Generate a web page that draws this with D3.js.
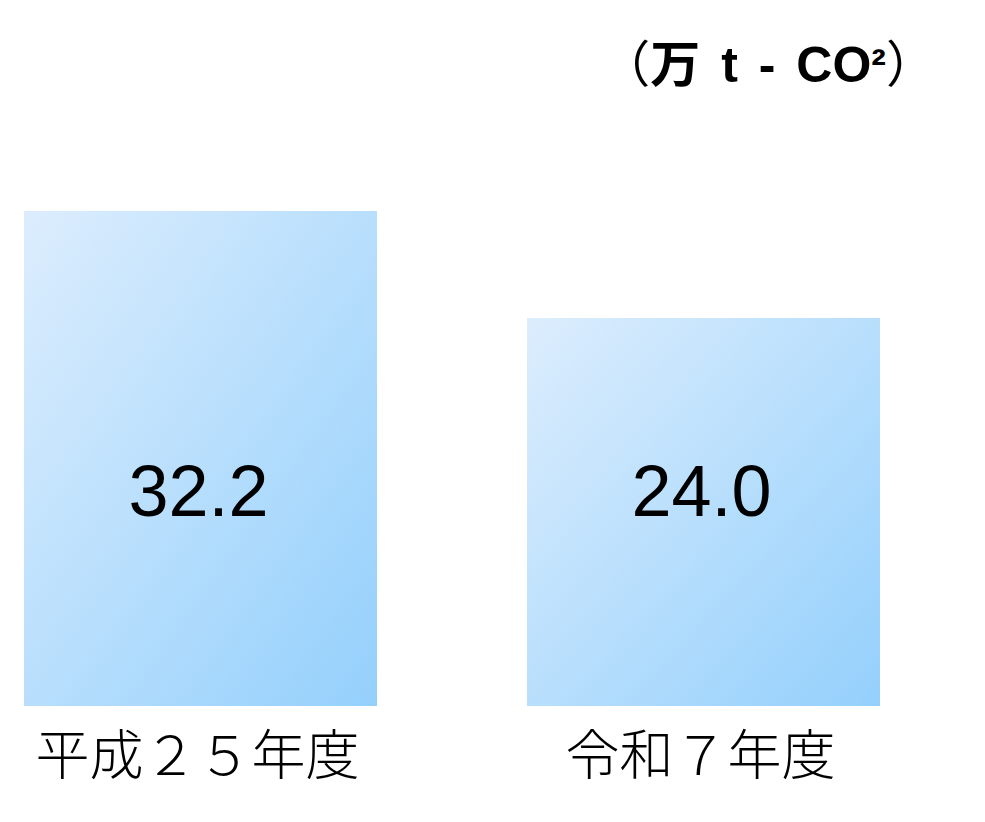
<!DOCTYPE html>
<html><head><meta charset="utf-8">
<script src="https://cdn.jsdelivr.net/npm/d3@7"></script>
<style>html,body{margin:0;padding:0;background:#fff;}svg{display:block;}</style>
</head><body>
<svg id="c" width="985" height="822"></svg>
<script>
const categories = ["平成２５年度", "令和７年度"];
const values = [32.2, 24.0];
const valueLabels = ["32.2", "24.0"];
const unitParts = ["（", "万 t - CO", "²", "）"];

const svg = d3.select("#c");
const defs = svg.append("defs");
const g = defs.append("linearGradient").attr("id","grad")
  .attr("x1","0%").attr("y1","0%").attr("x2","100%").attr("y2","100%");
g.append("stop").attr("offset","0%").attr("stop-color","#dcedfd");
g.append("stop").attr("offset","100%").attr("stop-color","#94d0fc");

const x = d3.scaleBand().domain(categories).range([24, 880]).paddingInner(0.2982).paddingOuter(0);
const y = d3.scaleLinear().domain([-5.73, 32.2]).range([706, 211]);

svg.selectAll("rect.bar").data(values).join("rect")
  .attr("class","bar")
  .attr("x",(d,i)=>x(categories[i]))
  .attr("y",d=>y(d))
  .attr("width",x.bandwidth())
  .attr("height",d=>y.range()[0]-y(d))
  .attr("fill","url(#grad)");

svg.selectAll("text.val").data(values).join("text")
  .attr("class","val")
  .attr("x",(d,i)=>x(categories[i])+x.bandwidth()/2 - 2)
  .attr("y",516)
  .attr("text-anchor","middle")
  .attr("font-family","'Liberation Sans', Arial, sans-serif")
  .attr("font-size",72)
  .attr("fill","#000")
  .text((d,i)=>valueLabels[i]);

svg.selectAll("text.cat").data(categories).join("text")
  .attr("class","cat")
  .attr("x",d=>x(d)+x.bandwidth()/2 - 3)
  .attr("y",775)
  .attr("text-anchor","middle")
  .attr("font-family","'Noto Sans CJK JP', sans-serif")
  .attr("font-weight",300)
  .attr("font-size",54)
  .attr("fill","#000")
  .text(d=>d);

const t = svg.append("text")
  .attr("x",936).attr("y",82)
  .attr("text-anchor","end")
  .attr("font-family","'Liberation Sans', 'Noto Sans CJK JP', sans-serif")
  .attr("font-size",50)
  .attr("fill","#000")
  .attr("word-spacing",7)
  .style("white-space","pre");
t.append("tspan").attr("font-family","'Noto Sans CJK JP', sans-serif").attr("font-weight",400).text(unitParts[0]);
t.append("tspan").attr("font-weight","bold").text(unitParts[1]);
t.append("tspan").attr("font-weight","bold").attr("font-size",44).attr("dy",-2).text(unitParts[2]);
t.append("tspan").attr("font-family","'Noto Sans CJK JP', sans-serif").attr("font-weight",400).attr("dy",2).text(unitParts[3]);
</script>
</body></html>
